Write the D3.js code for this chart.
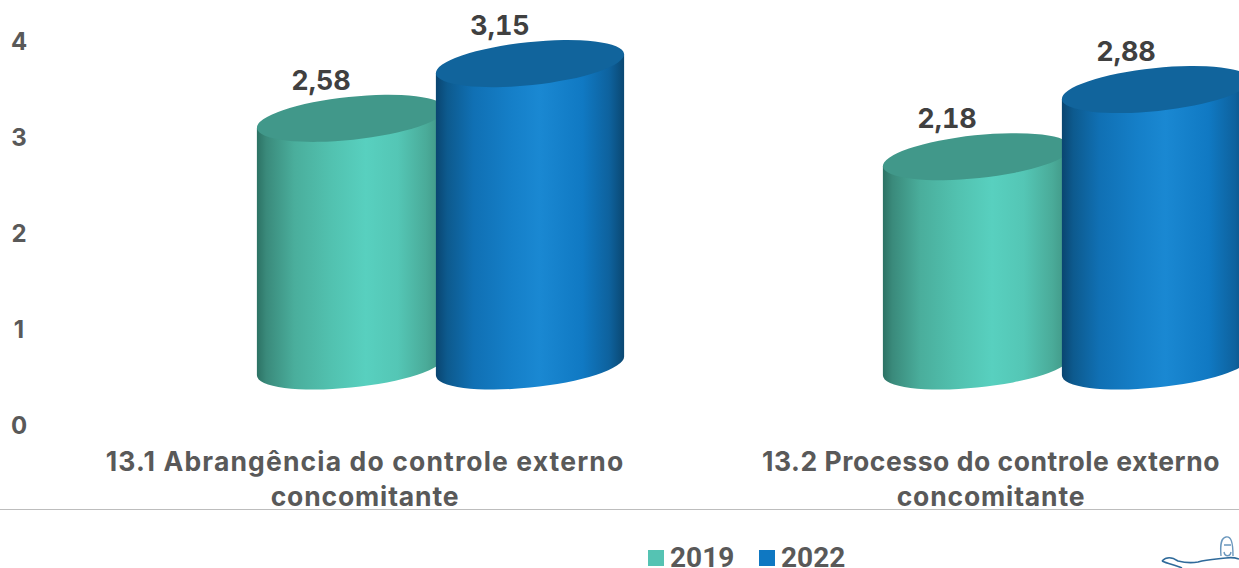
<!DOCTYPE html>
<html><head><meta charset="utf-8">
<script src="https://cdn.jsdelivr.net/npm/d3@7"></script>
<style>html,body{margin:0;padding:0;background:#fff;overflow:hidden}svg{display:block}</style>
</head><body><svg id="c" width="1239" height="568"></svg>
<script>
const categories = [["13.1 Abrangência do controle externo","concomitante"],["13.2 Processo do controle externo","concomitante"]];
const seriesNames = ["2019","2022"];
const values2019 = [2.58,2.18];
const values2022 = [3.15,2.88];
const valueLabels2019 = ["2,58","2,18"];
const valueLabels2022 = ["3,15","2,88"];
const yTicks = [0,1,2,3,4];

const FONT = "Inter, 'Open Sans', sans-serif";
const svg = d3.select("#c");
const defs = svg.append("defs");
function grad(id, stops){
  const g = defs.append("linearGradient").attr("id",id).attr("x1","0").attr("x2","1").attr("y1","0").attr("y2","0");
  stops.forEach(s=>g.append("stop").attr("offset",s[0]).attr("stop-color",s[1]));
}
grad("g0",[[0,"#2c7264"],[0.05,"#3a8a7b"],[0.2,"#4aae9c"],[0.4,"#52c2b0"],[0.58,"#58d0bf"],[0.75,"#54c6b5"],[0.9,"#4aab99"],[1,"#3e9080"]]);
grad("g1",[[0,"#0a4570"],[0.06,"#0d5a8e"],[0.2,"#1070b4"],[0.4,"#157fc8"],[0.55,"#1a88d2"],[0.78,"#1079c3"],[0.92,"#0e629e"],[1,"#0a4872"]]);
const topColors = ["#41988a","#11649c"];

const y = d3.scaleLinear().domain([0,4]).range([424,40]);
const x0 = d3.scalePoint().domain(categories.map(d=>d[0])).range([365,991]);
const x1 = d3.scaleOrdinal().domain(seriesNames).range([-14,165]);
const depth = 58, rx = 94.6, ry = 21.5, rot = -6;
const th = rot*Math.PI/180;
const t = Math.atan2(-ry*Math.sin(th), rx*Math.cos(th));
const ex = rx*Math.cos(t)*Math.cos(th)-ry*Math.sin(t)*Math.sin(th);
const ey = rx*Math.cos(t)*Math.sin(th)+ry*Math.sin(t)*Math.cos(th);

// y axis labels
svg.append("g").selectAll("text").data(yTicks).join("text")
  .attr("x",19).attr("y",d=>y(d)+1).attr("dy","0.36em").attr("text-anchor","middle")
  .attr("font-family",FONT).attr("font-weight",700).attr("font-size",24).attr("fill","#595959").text(d=>d);

const rows = [];
categories.forEach((c,i)=>{
  rows.push({cat:c[0],s:seriesNames[0],si:0,v:values2019[i],l:valueLabels2019[i]});
  rows.push({cat:c[0],s:seriesNames[1],si:1,v:values2022[i],l:valueLabels2022[i]});
});
const bar = svg.append("g").selectAll("g").data(rows).join("g");
const cx = d=>x0(d.cat)+x1(d.s);
bar.append("path").attr("fill",d=>`url(#g${d.si})`).attr("d",d=>{
  const c=cx(d), top=y(d.v)-depth, base=y(0)-depth;
  return `M${c-ex},${top-ey}L${c-ex},${base-ey}A${rx},${ry} ${rot} 0 0 ${c+ex},${base+ey}L${c+ex},${top+ey}Z`;
});
bar.append("ellipse").attr("rx",rx).attr("ry",ry).attr("fill",d=>topColors[d.si])
  .attr("transform",d=>`translate(${cx(d)},${y(d.v)-depth}) rotate(${rot})`);
bar.append("text").attr("x",d=>cx(d)-30).attr("y",d=>y(d.v)-depth-38).attr("dy","0.36em").attr("text-anchor","middle")
  .style("font-feature-settings","'tnum'")
  .attr("font-family",FONT).attr("font-weight",700).attr("font-size",27).attr("fill","#404040").text(d=>d.l);

// category labels
const firstLineSpacing = [1.15,0.55];
const catG = svg.append("g").selectAll("text").data(categories).join("text")
  .attr("text-anchor","middle").attr("font-family",FONT).attr("font-weight",700).attr("font-size",26.5).attr("fill","#595959");
catG.selectAll("tspan").data((d,j)=>d.map(s=>({s,c:d[0],j}))).join("tspan")
  .attr("x",d=>x0(d.c)).attr("y",(d,i)=>i?506:471)
  .attr("letter-spacing",(d,i)=>i?0.85:firstLineSpacing[d.j]).text(d=>d.s);

svg.append("line").attr("x1",0).attr("x2",1239).attr("y1",509.5).attr("y2",509.5).attr("stroke","#bdbdbd").attr("stroke-width",1);

// legend
const lx = d3.scaleOrdinal().domain(seriesNames).range([648,759]);
const lg = svg.append("g").selectAll("g").data(seriesNames).join("g");
lg.append("rect").attr("x",d=>lx(d)).attr("y",550).attr("width",16).attr("height",16).attr("fill",(d,i)=>i?"#0f78c2":"#55c3b3");
lg.append("text").attr("x",d=>lx(d)+22).attr("y",567).attr("font-family","Roboto, sans-serif").attr("font-weight",700).attr("font-size",28).attr("fill","#595959").text(d=>d);

// logo (decoration)
const logo = svg.append("g").attr("fill","none").attr("stroke","#2f6a9a");
logo.append("path").attr("d","M1221,556 C1220,544 1221,538 1226,537 C1231,536 1233,542 1233,556 M1224,552 C1225,557 1230,557 1231,552 M1224,545 L1231,545").attr("stroke","#6a97bd").attr("stroke-width",1.4);
logo.append("path").attr("d","M1162,561 C1166,557 1172,557 1178,561 C1186,563 1192,563 1198,562 C1208,559 1220,559 1226,558 C1232,557 1236,558 1239,559 M1162,561 C1168,564 1176,565 1182,568").attr("stroke-width",1.6);
</script></body></html>
